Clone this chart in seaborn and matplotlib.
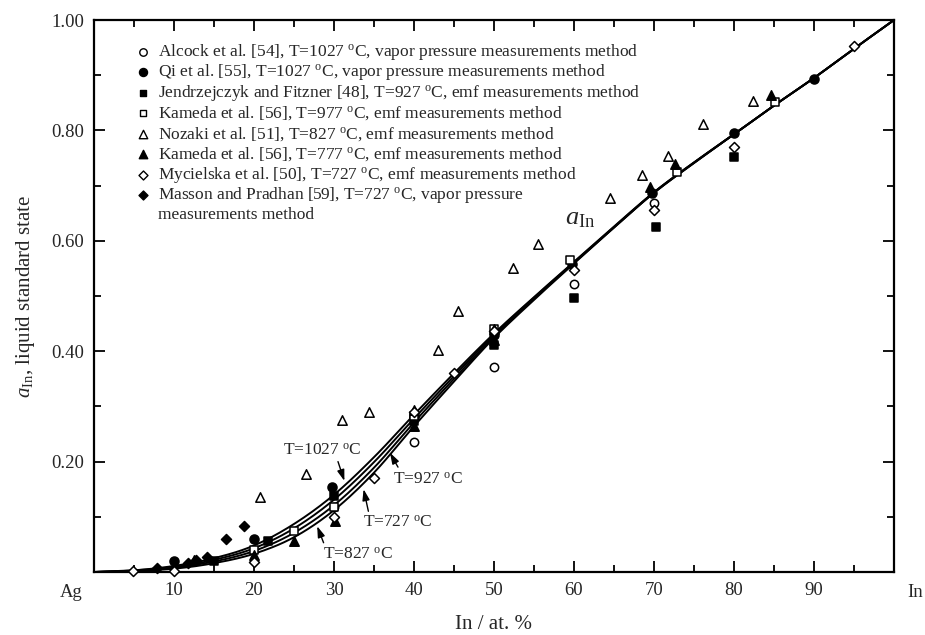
import numpy as np
import pandas as pd
import matplotlib
matplotlib.use("Agg")
import matplotlib.pyplot as plt
import seaborn as sns

# ---- calculated activity curves (a_In vs In at.%) ----
curve_x = [0, 5, 10, 15, 20, 25, 30, 35, 40, 45, 50, 55, 60, 65, 70, 75, 80, 85, 90, 95, 100]
curve_1027 = [0, 0.003, 0.011, 0.025, 0.048, 0.087, 0.140, 0.208, 0.285, 0.360, 0.432, 0.498,
              0.562, 0.626, 0.688, 0.742, 0.793, 0.845, 0.895, 0.948, 1.0]
curve_927 = [0, 0.003, 0.009, 0.022, 0.043, 0.079, 0.131, 0.199, 0.278, 0.355, 0.430, 0.497,
             0.561, 0.625, 0.688, 0.742, 0.793, 0.845, 0.895, 0.948, 1.0]
curve_827 = [0, 0.002, 0.008, 0.019, 0.038, 0.071, 0.121, 0.189, 0.271, 0.350, 0.427, 0.495,
             0.560, 0.624, 0.687, 0.741, 0.793, 0.845, 0.895, 0.948, 1.0]
curve_727 = [0, 0.002, 0.006, 0.016, 0.033, 0.063, 0.112, 0.180, 0.264, 0.345, 0.424, 0.493,
             0.559, 0.624, 0.687, 0.741, 0.793, 0.845, 0.895, 0.948, 1.0]
curve_labels = ["1027", "927", "827", "727"]

# ---- experimental data ----
alcock_x = [30, 40, 50, 60, 70]
alcock_y = [0.118, 0.235, 0.372, 0.522, 0.668]

qi_x = [10, 20, 29.75, 40, 50, 59.75, 69.75, 80, 90]
qi_y = [0.020, 0.060, 0.154, 0.280, 0.430, 0.558, 0.686, 0.795, 0.893]

jendr_x = [15, 21.8, 30, 40, 50, 60, 70.25, 80]
jendr_y = [0.020, 0.057, 0.138, 0.273, 0.411, 0.497, 0.625, 0.752]

kameda977_x = [20, 25, 30, 40, 50, 59.5, 72.9, 85.1]
kameda977_y = [0.040, 0.075, 0.118, 0.282, 0.440, 0.565, 0.725, 0.852]

nozaki_x = [20.75, 26.5, 31, 34.4, 40, 43, 45.5, 50, 52.4, 55.5, 64.5, 68.5, 71.75, 76.1, 82.4]
nozaki_y = [0.136, 0.178, 0.275, 0.290, 0.293, 0.402, 0.473, 0.440, 0.551, 0.594,
            0.678, 0.719, 0.754, 0.812, 0.853]

kameda777_x = [12.5, 20, 25, 30.1, 40, 50, 69.5, 72.6, 84.6]
kameda777_y = [0.022, 0.031, 0.056, 0.092, 0.265, 0.420, 0.698, 0.739, 0.864]

mycielska_x = [4.9, 10, 20, 30, 35, 40, 45, 50, 60, 70, 80, 95]
mycielska_y = [0.002, 0.002, 0.018, 0.100, 0.170, 0.290, 0.360, 0.436, 0.548, 0.656, 0.770, 0.953]

masson_x = [7.9, 11.8, 12.8, 14.1, 16.5, 18.7]
masson_y = [0.008, 0.016, 0.022, 0.028, 0.060, 0.083]

DEG = r"$\ ^{\mathrm{o}}$C"
legend_labels = [
    "Alcock et al. [54], T=1027" + DEG + ", vapor pressure measurements method",
    "Qi et al. [55], T=1027" + DEG + ", vapor pressure measurements method",
    "Jendrzejczyk and Fitzner [48], T=927" + DEG + ", emf measurements method",
    "Kameda et al. [56], T=977" + DEG + ", emf measurements method",
    "Nozaki et al. [51], T=827" + DEG + ", emf measurements method",
    "Kameda et al. [56], T=777" + DEG + ", emf measurements method",
    "Mycielska et al. [50], T=727" + DEG + ", emf measurements method",
    "Masson and Pradhan [59], T=727" + DEG + ", vapor pressure",
]
legend_extra = "measurements method"

x_ticks = [10, 20, 30, 40, 50, 60, 70, 80, 90]
y_ticks = [0.20, 0.40, 0.60, 0.80, 1.00]

sns.set_theme(style="ticks")
plt.rcParams.update({
    "font.family": ["Liberation Serif", "DejaVu Serif"],
    "mathtext.fontset": "custom",
    "mathtext.rm": "Liberation Serif",
    "mathtext.it": "Liberation Serif:italic",
    "mathtext.bf": "Liberation Serif:bold",
    "axes.linewidth": 1.6,
    "axes.edgecolor": "black",
})

fig = plt.figure(figsize=(9.25, 6.35), dpi=100)
ax = fig.add_axes([0.1016, 0.0992, 0.8649, 0.8693])


def smooth(xs, ys, n=20):
    """Catmull-Rom densification so the curves are drawn smoothly."""
    xs = np.asarray(xs, float)
    ys = np.asarray(ys, float)
    px = np.concatenate([[2 * xs[0] - xs[1]], xs, [2 * xs[-1] - xs[-2]]])
    py = np.concatenate([[2 * ys[0] - ys[1]], ys, [2 * ys[-1] - ys[-2]]])
    ox, oy = [], []
    t = np.linspace(0, 1, n, endpoint=False)
    for i in range(1, len(px) - 2):
        for arr, out in ((px, ox), (py, oy)):
            p0, p1, p2, p3 = arr[i - 1], arr[i], arr[i + 1], arr[i + 2]
            out.extend(0.5 * ((2 * p1) + (-p0 + p2) * t + (2 * p0 - 5 * p1 + 4 * p2 - p3) * t ** 2
                              + (-p0 + 3 * p1 - 3 * p2 + p3) * t ** 3))
    ox.append(xs[-1])
    oy.append(ys[-1])
    return np.array(ox), np.array(oy)


frames = []
for lab, ys in zip(curve_labels, [curve_1027, curve_927, curve_827, curve_727]):
    sx, sy = smooth(curve_x, ys)
    frames.append(pd.DataFrame({"x": sx, "y": np.clip(sy, 0, None), "T": lab}))
curves = pd.concat(frames, ignore_index=True)
sns.lineplot(data=curves, x="x", y="y", units="T", estimator=None, color="black",
             linewidth=1.4, ax=ax, legend=False, zorder=2, sort=False)

# marker styles: (marker, facecolor, size)
styles = [
    ("o", "white", 36),
    ("o", "black", 42),
    ("s", "black", 30),
    ("s", "white", 30),
    ("^", "white", 46),
    ("^", "black", 46),
    ("D", "white", 26),
    ("D", "black", 26),
]
series = [(alcock_x, alcock_y), (qi_x, qi_y), (jendr_x, jendr_y), (kameda977_x, kameda977_y),
          (nozaki_x, nozaki_y), (kameda777_x, kameda777_y), (mycielska_x, mycielska_y),
          (masson_x, masson_y)]
for (sx, sy), (mk, fc, sz) in zip(series, styles):
    sns.scatterplot(x=sx, y=sy, marker=mk, s=sz, facecolor=fc, edgecolor="black",
                    linewidth=1.1, ax=ax, zorder=3, clip_on=False)

# legend drawn as a text block in axes coordinates
leg_top = 0.9420
leg_step = 0.0370
for i, (lab, (mk, fc, sz)) in enumerate(zip(legend_labels, styles)):
    yy = leg_top - i * leg_step
    ax.scatter([0.061], [yy], marker=mk, s=sz * 0.8, facecolor=fc, edgecolor="black",
               linewidth=1.0, transform=ax.transAxes, zorder=4)
    ax.text(0.080, yy, lab, transform=ax.transAxes, fontsize=12.5, va="center", ha="left")
ax.text(0.080, leg_top - 8 * leg_step, legend_extra, transform=ax.transAxes,
        fontsize=12.5, va="center", ha="left")

# curve annotations: label text plus a short arrow pointing at the curve
arrow_kw = dict(arrowstyle="-|>,head_length=0.55,head_width=0.18", color="black", lw=1.0,
                shrinkA=0, shrinkB=0)
notes = [
    ("T=1027" + DEG, (28.6, 0.220), (30.5, 0.200), (31.3, 0.165)),
    ("T=927" + DEG, (41.75, 0.167), (38.0, 0.190), (37.0, 0.216)),
    ("T=727" + DEG, (38.0, 0.089), (34.3, 0.110), (33.7, 0.150)),
    ("T=827" + DEG, (33.0, 0.031), (28.7, 0.053), (27.9, 0.083)),
]
for txt, pos, tail, tip in notes:
    ax.text(pos[0], pos[1], txt, fontsize=12.5, ha="center", va="center")
    ax.annotate("", xy=tip, xytext=tail, arrowprops=arrow_kw)
ax.text(60.75, 0.64, r"$a_{\mathrm{In}}$", fontsize=19, ha="center", va="center")

# axes, ticks, labels
ax.set_xlim(0, 100)
ax.set_ylim(0, 1.0)
ax.set_xticks(x_ticks)
ax.set_xticklabels([str(v) for v in x_ticks])
ax.set_xticks(np.arange(5, 100, 10), minor=True)
ax.set_yticks(y_ticks)
ax.set_yticklabels([f"{v:.2f}" for v in y_ticks])
ax.set_yticks([0.1, 0.3, 0.5, 0.7, 0.9], minor=True)
ax.tick_params(which="both", direction="in", top=True, right=True, labelsize=13.5,
               width=1.3, color="black")
ax.tick_params(which="major", length=8, pad=7)
ax.tick_params(which="minor", length=5)
for s in ax.spines.values():
    s.set_visible(True)
    s.set_linewidth(1.6)
ax.text(-0.028, -0.0215, "Ag", transform=ax.transAxes, fontsize=13.5, ha="center", va="top")
ax.text(1.026, -0.0215, "In", transform=ax.transAxes, fontsize=13.5, ha="center", va="top")
ax.set_xlabel("In / at. %", fontsize=15, labelpad=12)
ax.set_ylabel(r"$a_{\mathrm{In}}$, liquid standard state", fontsize=15, labelpad=10)

fig.savefig("out.png", dpi=100)
